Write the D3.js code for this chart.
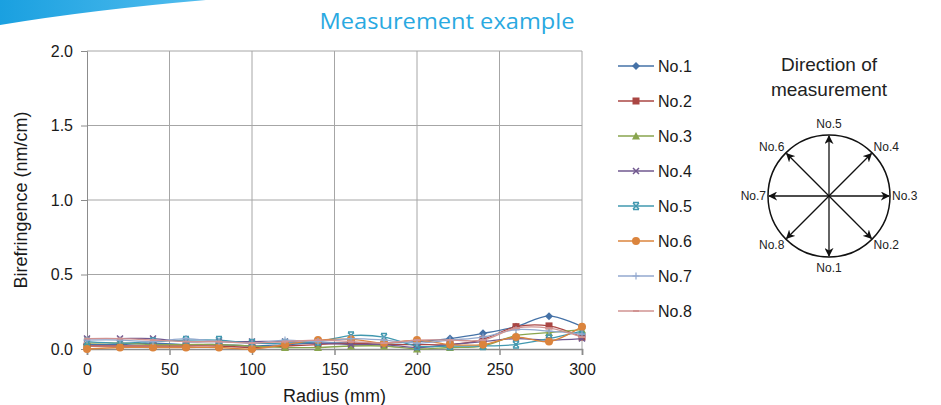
<!DOCTYPE html>
<html>
<head>
<meta charset="utf-8">
<script src="https://cdn.jsdelivr.net/npm/d3@7"></script>
<style>
  body { margin: 0; background: #fff; }
  svg { display: block; font-family: Arial, "Liberation Sans", sans-serif; }
</style>
</head>
<body>
<div id="chart"></div>
<script>
const radius = [0, 20, 40, 60, 80, 100, 120, 140, 160, 180, 200, 220, 240, 260, 280, 300];
const seriesNames = ["No.1", "No.2", "No.3", "No.4", "No.5", "No.6", "No.7", "No.8"];
const no1 = [0.03, 0.03, 0.04, 0.03, 0.03, 0.02, 0.03, 0.04, 0.04, 0.04, 0.05, 0.07, 0.105, 0.15, 0.22, 0.15];
const no2 = [0.02, 0.02, 0.02, 0.02, 0.02, 0.01, 0.02, 0.03, 0.04, 0.03, 0.03, 0.03, 0.065, 0.15, 0.155, 0.08];
const no3 = [0.04, 0.04, 0.03, 0.03, 0.03, 0.02, 0.01, 0.01, 0.02, 0.02, 0.0, 0.01, 0.02, 0.09, 0.11, 0.13];
const no4 = [0.07, 0.07, 0.07, 0.05, 0.05, 0.05, 0.05, 0.04, 0.03, 0.03, 0.01, 0.03, 0.05, 0.07, 0.06, 0.07];
const no5 = [0.05, 0.04, 0.05, 0.06, 0.06, 0.04, 0.04, 0.05, 0.09, 0.08, 0.02, 0.02, 0.02, 0.03, 0.07, 0.12];
const no6 = [0.0, 0.01, 0.01, 0.01, 0.01, 0.0, 0.03, 0.06, 0.065, 0.04, 0.06, 0.03, 0.03, 0.08, 0.05, 0.15];
const no7 = [0.06, 0.06, 0.05, 0.07, 0.05, 0.04, 0.06, 0.05, 0.07, 0.06, 0.04, 0.06, 0.08, 0.13, 0.12, 0.1];
const no8 = [0.07, 0.07, 0.06, 0.05, 0.05, 0.04, 0.05, 0.06, 0.05, 0.04, 0.06, 0.06, 0.06, 0.14, 0.14, 0.08];
const seriesValues = [no1, no2, no3, no4, no5, no6, no7, no8];
const colors = ["#4572A7", "#AA4643", "#89A54E", "#71588F", "#4198AF", "#DB843D", "#93A9CF", "#D19392"];
const markers = ["diamond", "square", "triangle", "x", "star", "circle", "plus", "dash"];
const xTicks = [0, 50, 100, 150, 200, 250, 300];
const yTicks = [0, 0.5, 1.0, 1.5, 2.0];
const directions = ["No.1", "No.2", "No.3", "No.4", "No.5", "No.6", "No.7", "No.8"];

const width = 941, height = 405;
const margin = { top: 51, right: 359, bottom: 56, left: 87 };

const svg = d3.select("#chart").append("svg")
  .attr("width", width)
  .attr("height", height);

// blue swoosh top-left
const grad = svg.append("defs").append("linearGradient")
  .attr("id", "swoosh").attr("x1", "0").attr("x2", "1");
grad.append("stop").attr("offset", "0").attr("stop-color", "#1aa0e0");
grad.append("stop").attr("offset", "1").attr("stop-color", "#52bdee");
svg.append("path")
  .attr("d", "M0,0 L206,0 Q90,10 0,25 Z")
  .attr("fill", "url(#swoosh)");

svg.append("text")
  .attr("x", 447).attr("y", 29)
  .attr("text-anchor", "middle")
  .attr("fill", "#29a9e1")
  .attr("font-size", 22)
  .attr("font-family", "'Open Sans', sans-serif")
  .attr("textLength", 255)
  .attr("lengthAdjust", "spacingAndGlyphs")
  .text("Measurement example");

const x = d3.scaleLinear().domain([0, 300]).range([margin.left, width - margin.right]);
const y = d3.scaleLinear().domain([0, 2]).range([height - margin.bottom, margin.top]);

// grid
svg.append("g")
  .selectAll("line")
  .data(yTicks.filter(d => d > 0))
  .join("line")
    .attr("x1", x(0)).attr("x2", x(300))
    .attr("y1", d => y(d)).attr("y2", d => y(d))
    .attr("stroke", "#a6a6a6").attr("stroke-width", 1);
svg.append("g")
  .selectAll("line")
  .data(xTicks.filter(d => d > 0))
  .join("line")
    .attr("x1", d => x(d)).attr("x2", d => x(d))
    .attr("y1", y(0)).attr("y2", y(2))
    .attr("stroke", "#a6a6a6").attr("stroke-width", 1);

const yAxis = g => g
  .attr("transform", `translate(${margin.left},0)`)
  .call(d3.axisLeft(y).tickValues(yTicks).tickFormat(d3.format(".1f")).tickSize(6).tickPadding(8))
  .call(g => g.selectAll("line, .domain").attr("stroke", "#8c8c8c"))
  .call(g => g.selectAll("text").attr("font-size", 16).attr("fill", "#1a1a1a")
    .attr("font-family", "Arial, 'Liberation Sans', sans-serif"));

const xAxis = g => g
  .attr("transform", `translate(0,${height - margin.bottom})`)
  .call(d3.axisBottom(x).tickValues(xTicks).tickSize(6).tickPadding(9).tickSizeOuter(6))
  .call(g => g.selectAll("line, .domain").attr("stroke", "#8c8c8c").attr("stroke-width", 1.5))
  .call(g => g.selectAll("text").attr("font-size", 16).attr("fill", "#1a1a1a")
    .attr("font-family", "Arial, 'Liberation Sans', sans-serif"));

svg.append("g").call(yAxis);
svg.append("g").call(xAxis);

svg.append("text")
  .attr("transform", `translate(27,${(y(0) + y(2)) / 2}) rotate(-90)`)
  .attr("text-anchor", "middle")
  .attr("font-size", 18).attr("fill", "#1a1a1a")
  .text("Birefringence (nm/cm)");
svg.append("text")
  .attr("x", (x(0) + x(300)) / 2).attr("y", 402)
  .attr("text-anchor", "middle")
  .attr("font-size", 18).attr("fill", "#1a1a1a")
  .text("Radius (mm)");

function drawMarker(g, type, color) {
  if (type === "diamond") {
    g.append("path").attr("d", "M0,-4 L4,0 L0,4 L-4,0 Z").attr("fill", color);
  } else if (type === "square") {
    g.append("rect").attr("x", -3.5).attr("y", -3.5).attr("width", 7).attr("height", 7).attr("fill", color);
  } else if (type === "triangle") {
    g.append("path").attr("d", "M0,-4 L4,3.5 L-4,3.5 Z").attr("fill", color);
  } else if (type === "x") {
    g.append("path").attr("d", "M-3,-3 L3,3 M-3,3 L3,-3").attr("stroke", color).attr("stroke-width", 1.5);
  } else if (type === "star") {
    g.append("path").attr("d", "M-3,-3 L3,3 M-3,3 L3,-3 M-3,-3.5 L3,-3.5 M-3,3.5 L3,3.5").attr("stroke", color).attr("stroke-width", 1.5);
  } else if (type === "circle") {
    g.append("circle").attr("r", 4).attr("fill", color);
  } else if (type === "plus") {
    g.append("path").attr("d", "M-3.5,0 L3.5,0 M0,-3.5 L0,3.5").attr("stroke", color).attr("stroke-width", 1.2);
  } else if (type === "dash") {
    g.append("path").attr("d", "M-3,0 L3,0").attr("stroke", color).attr("stroke-width", 2);
  }
}

const line = d3.line()
  .x((d, i) => x(radius[i]))
  .y(d => y(d))
  .curve(d3.curveCatmullRom.alpha(0.5));

const series = svg.append("g").attr("class", "series");
seriesValues.forEach((vals, k) => {
  const sg = series.append("g");
  sg.append("path")
    .attr("d", line(vals))
    .attr("fill", "none")
    .attr("stroke", colors[k])
    .attr("stroke-width", 1.3);
  vals.forEach((v, i) => {
    const m = sg.append("g").attr("transform", `translate(${x(radius[i])},${y(v)})`);
    drawMarker(m, markers[k], colors[k]);
  });
});

// legend
const legend = svg.append("g").attr("transform", "translate(618,66)");
seriesNames.forEach((name, k) => {
  const lg = legend.append("g").attr("transform", `translate(0,${k * 35})`);
  lg.append("line").attr("x1", 0).attr("x2", 36).attr("stroke", colors[k]).attr("stroke-width", 1.3);
  drawMarker(lg.append("g").attr("transform", "translate(18,0)"), markers[k], colors[k]);
  lg.append("text").attr("x", 40).attr("y", 6)
    .attr("font-size", 16).attr("fill", "#1a1a1a").text(name);
});

// direction diagram
const cx = 829, cy = 196, r = 61;
const dg = svg.append("g");
dg.append("text").attr("x", cx).attr("y", 71).attr("text-anchor", "middle")
  .attr("font-size", 19).attr("fill", "#222").text("Direction of");
dg.append("text").attr("x", cx).attr("y", 96).attr("text-anchor", "middle")
  .attr("font-size", 19).attr("fill", "#222").text("measurement");
dg.append("circle").attr("cx", cx).attr("cy", cy).attr("r", r)
  .attr("fill", "none").attr("stroke", "#111").attr("stroke-width", 1.5);

dg.append("defs").append("marker")
  .attr("id", "arrow").attr("viewBox", "0 0 10 10")
  .attr("refX", 9).attr("refY", 5)
  .attr("markerWidth", 9).attr("markerHeight", 9)
  .attr("markerUnits", "userSpaceOnUse")
  .attr("orient", "auto")
  .append("path").attr("d", "M0,0 L10,5 L0,10 L3,5 Z").attr("fill", "#111");

// No.1 points down, going counter-clockwise on screen (No.3 right, No.5 up)
directions.forEach((name, k) => {
  const a = Math.PI / 2 - k * Math.PI / 4; // screen angle, y down
  const ex = cx + Math.cos(a) * (r - 1);
  const ey = cy + Math.sin(a) * (r - 1);
  dg.append("line")
    .attr("x1", cx).attr("y1", cy).attr("x2", ex).attr("y2", ey)
    .attr("stroke", "#111").attr("stroke-width", 1.3)
    .attr("marker-end", "url(#arrow)");
  let lx, ly, anchor = "middle";
  if (k === 2) { lx = cx + r + 2; ly = cy; anchor = "start"; }
  else if (k === 6) { lx = cx - r - 2; ly = cy; anchor = "end"; }
  else if (k % 2 === 1) {
    lx = cx + Math.cos(a) * (r + 20);
    ly = cy + Math.sin(a) * (r + 9);
  } else {
    lx = cx; ly = cy + Math.sin(a) * (r + 11);
  }
  dg.append("text")
    .attr("x", lx).attr("y", ly + 4)
    .attr("text-anchor", anchor)
    .attr("font-size", 12).attr("fill", "#222")
    .text(name);
});
</script>
</body>
</html>
